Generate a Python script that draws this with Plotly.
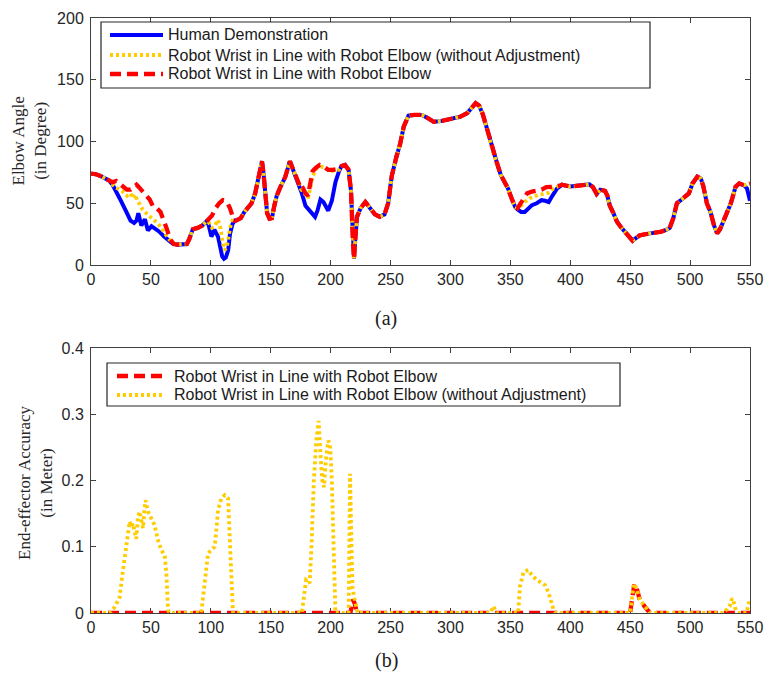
import plotly.graph_objects as go

# ---------------- Top panel (a): Elbow angle ----------------
# shared segments (all three curves coincide)
common_a_x = [0, 4, 8, 12, 15]
common_a_y = [74, 73.5, 72, 70, 68.5]
common_b_x = [72, 76, 80, 82, 85, 89, 93, 96]
common_b_y = [16.5, 17, 17, 21, 29, 30, 32, 35]
common_c_x = [121, 125, 128, 131, 134, 137, 139, 141, 142.7, 144, 145.5, 147, 149, 151, 153, 155,
              158, 162, 166, 168, 170, 173, 175.5]
common_c_y = [36, 38, 43, 47, 50, 58, 67, 76, 84, 74, 55, 42, 37.5, 38, 48, 56,
              63, 71, 84, 79, 74, 66, 61]
common_d_x = [209, 212, 215, 217, 218.5, 219.5, 220.5, 222, 225, 229, 233, 237, 241, 245, 248, 251,
              255, 258, 261, 265, 270, 276, 281, 286, 292, 300, 308, 314, 318, 321, 324, 327,
              330, 333, 336, 339, 342, 345, 348, 351, 354]
common_d_y = [80, 81, 77, 60, 20, 5, 20, 39, 46, 51, 46, 41, 39, 41, 50, 72,
              88, 98, 112, 121, 121.5, 121.5, 119, 116, 116.5, 118, 120, 123, 128, 131, 129, 122,
              112, 101, 90, 82, 73, 68, 62, 54, 47]
common_e_x = [393, 400, 408, 416, 419, 422, 425, 429, 431, 433, 436, 439, 442, 447, 452, 455,
              458, 463, 467, 472, 476, 480, 483, 486, 489, 493, 496, 499, 502, 506, 509, 511,
              514, 517, 520, 522.6, 525, 528, 531, 534, 538, 541, 545]
common_e_y = [65, 63.5, 64, 65.3, 63, 57.5, 61, 60, 56, 48, 42, 35, 31, 25.6, 19.7, 22,
              24, 25, 25.6, 26, 27, 28.5, 30, 38, 50, 53, 55.3, 58, 66, 71.5, 70, 64,
              50, 43, 32, 25.6, 29, 36.5, 43, 50, 63.4, 66, 64.5]

# Human demonstration specific segments
human_s1_x = [18, 22, 25, 29, 33, 36, 38, 39.5, 42, 45, 47.5, 50.5, 53, 57, 61, 65, 68]
human_s1_y = [65, 58, 52, 44, 36, 34, 36, 42, 32, 37, 28, 31.5, 30, 27, 23, 19.5, 17.5]
human_s2_x = [98, 100.5, 103, 106, 108, 109.5, 111, 112.5, 114.5, 116, 118, 120]
human_s2_y = [33, 23, 28.5, 23, 13, 7, 5, 6, 12, 25, 33, 36]
human_s3_x = [176, 179, 183, 187, 189, 191.5, 194, 198, 201, 204, 207]
human_s3_y = [58, 48, 44, 39, 44, 53, 51, 44, 52, 67, 76]
human_s4_x = [356, 359, 362, 365, 368, 372, 376, 379, 382, 385, 389, 392]
human_s4_y = [45, 43, 43, 46, 48.5, 50, 52.5, 52, 51, 56, 62, 64]
human_s5_x = [547.5, 550]
human_s5_y = [62, 52]

# Robot wrist in line with elbow (without adjustment) specific segments
noadj_s1_x = [18, 22, 26, 30, 33, 35, 37, 39, 41, 43, 46, 50, 53, 56, 59, 62, 65, 68]
noadj_s1_y = [65, 62, 60, 56, 58, 54, 57, 51, 49, 45, 42, 38, 36, 33.5, 29, 25, 21, 18]
noadj_s2_x = [98, 101, 103, 106, 108, 110, 111.5, 113, 114.5, 116, 118, 120]
noadj_s2_y = [35, 30, 31, 36.5, 30, 18, 12, 14, 20, 30, 36, 36]
noadj_s3_x = [177, 179, 181, 183, 185, 188, 192, 195, 198, 201, 204, 207]
noadj_s3_y = [60, 57, 54, 62, 72, 78, 79.5, 79, 77, 76, 77, 77]
noadj_s4_x = [356, 359, 362, 366, 370, 374, 378, 382, 386, 389, 392]
noadj_s4_y = [46, 48, 51, 54, 55.5, 57, 57.5, 58.5, 62, 63, 64]
noadj_s5_x = [547.5, 550]
noadj_s5_y = [65, 66]

# Robot wrist in line with elbow (adjusted) specific segments
adj_s1_x = [18, 21, 24, 27, 30, 33, 36, 38, 40, 43, 46, 49, 52, 55, 58, 61, 63, 66, 69]
adj_s1_y = [67, 68, 66, 63, 61, 61, 64, 65, 63, 60, 57, 53, 47, 46, 43, 36, 30, 21, 17]
adj_s2_x = [98, 101, 104, 107, 110, 112, 114, 116, 118, 120]
adj_s2_y = [37, 40, 46, 50, 52.5, 52, 50, 46, 40, 36]
adj_s3_x = [177, 179, 181, 183, 185, 188, 191, 194, 198, 202, 205, 207]
adj_s3_y = [62, 58, 56, 68, 76, 79, 81, 80, 77, 77, 78, 78]
adj_s4_x = [356, 358, 361, 364, 368, 372, 376, 380, 384, 388, 392]
adj_s4_y = [46, 49, 55, 58, 59.5, 60.5, 61, 63, 63, 63.5, 64.5]
adj_s5_x = [547.5, 550]
adj_s5_y = [65, 66]

# ---------------- Bottom panel (b): End-effector accuracy ----------------
acc_noadj_x = [0, 15.6, 19.8, 23.9, 26.7, 29.5, 30.9, 32.3, 33.7, 35, 36.4, 37.8, 39.2, 40.6, 42,
               43.4, 44.8, 45.6, 47.6, 50.4, 53, 55.9, 58.7, 61.5, 62.9, 64.3, 65.7,
               92, 94.9, 97.7, 100.4, 103.2, 104.6, 106, 108.8, 111.6, 114.4, 115.7, 117.1, 118.5,
               176, 178, 179.5, 181, 182.5, 184, 186, 188, 190, 191.5, 193, 194.5, 196, 198,
               199.5, 201, 202.5, 204,
               215, 216.2, 217.2, 218.2, 219.5, 221, 222.5,
               333, 336, 338.5,
               356.5, 358, 361, 365, 368, 372, 376, 379, 382, 386, 388,
               450, 453, 455.5, 458, 462, 466.5,
               528, 531, 533, 535, 536, 537.5, 540, 547, 549.5, 550]
acc_noadj_y = [0, 0, 0.009, 0.024, 0.065, 0.1, 0.12, 0.138, 0.13, 0.135, 0.122, 0.112, 0.145, 0.153, 0.14,
               0.128, 0.16, 0.17, 0.153, 0.143, 0.133, 0.11, 0.095, 0.087, 0.06, 0.004, 0,
               0, 0.049, 0.09, 0.095, 0.1, 0.125, 0.155, 0.173, 0.178, 0.173, 0.11, 0.049, 0,
               0, 0.03, 0.05, 0.048, 0.045, 0.1, 0.2, 0.26, 0.29, 0.24, 0.2, 0.19, 0.23, 0.26,
               0.255, 0.2, 0.08, 0,
               0, 0.21, 0.12, 0.04, 0.025, 0.015, 0,
               0, 0.01, 0,
               0, 0.04, 0.062, 0.065, 0.057, 0.05, 0.045, 0.042, 0.03, 0.005, 0,
               0, 0.044, 0.037, 0.02, 0.01, 0,
               0, 0.005, 0.01, 0.022, 0.02, 0.008, 0, 0, 0.022, 0.022]
acc_adj_x = [0, 216.5, 218.5, 220, 222, 450, 451.5, 453.5, 455.5, 458, 462, 466.5, 550]
acc_adj_y = [0, 0, 0.02, 0.015, 0, 0, 0.02, 0.044, 0.037, 0.02, 0.01, 0, 0]

x_ticks = [0, 50, 100, 150, 200, 250, 300, 350, 400, 450, 500, 550]
angle_ticks = [0, 50, 100, 150, 200]
acc_ticks = [0, 0.1, 0.2, 0.3, 0.4]
acc_tick_text = ["0", "0.1", "0.2", "0.3", "0.4"]

# assemble series from their segments
human_x = (common_a_x + human_s1_x + common_b_x + human_s2_x + common_c_x + human_s3_x +
           common_d_x + human_s4_x + common_e_x + human_s5_x)
human_y = (common_a_y + human_s1_y + common_b_y + human_s2_y + common_c_y + human_s3_y +
           common_d_y + human_s4_y + common_e_y + human_s5_y)
noadj_x = (common_a_x + noadj_s1_x + common_b_x + noadj_s2_x + common_c_x + noadj_s3_x +
           common_d_x + noadj_s4_x + common_e_x + noadj_s5_x)
noadj_y = (common_a_y + noadj_s1_y + common_b_y + noadj_s2_y + common_c_y + noadj_s3_y +
           common_d_y + noadj_s4_y + common_e_y + noadj_s5_y)
adj_x = (common_a_x + adj_s1_x + common_b_x + adj_s2_x + common_c_x + adj_s3_x +
         common_d_x + adj_s4_x + common_e_x + adj_s5_x)
adj_y = (common_a_y + adj_s1_y + common_b_y + adj_s2_y + common_c_y + adj_s3_y +
         common_d_y + adj_s4_y + common_e_y + adj_s5_y)

BLUE = "#0000FF"
YELLOW = "#FFCC00"
RED = "#FF0000"
LBL_HUMAN = "Human Demonstration"
LBL_NOADJ = "Robot Wrist in Line with Robot Elbow (without Adjustment)"
LBL_ADJ = "Robot Wrist in Line with Robot Elbow"

STY_HUMAN = dict(color=BLUE, width=4)
STY_NOADJ = dict(color=YELLOW, width=3.8, dash="3px,3px")
STY_ADJ = dict(color=RED, width=4.3, dash="11px,6px")

fig = go.Figure()
fig.add_trace(go.Scatter(x=human_x, y=human_y, mode="lines", name=LBL_HUMAN,
                         line=STY_HUMAN, xaxis="x", yaxis="y"))
fig.add_trace(go.Scatter(x=noadj_x, y=noadj_y, mode="lines", name=LBL_NOADJ,
                         line=STY_NOADJ, xaxis="x", yaxis="y"))
fig.add_trace(go.Scatter(x=adj_x, y=adj_y, mode="lines", name=LBL_ADJ,
                         line=STY_ADJ, xaxis="x", yaxis="y"))
fig.add_trace(go.Scatter(x=acc_adj_x, y=acc_adj_y, mode="lines", name=LBL_ADJ,
                         line=STY_ADJ, xaxis="x2", yaxis="y2"))
fig.add_trace(go.Scatter(x=acc_noadj_x, y=acc_noadj_y, mode="lines", name=LBL_NOADJ,
                         line=STY_NOADJ, xaxis="x2", yaxis="y2"))

W, H = 775, 677
def px(v):
    return v / W
def py(v):
    return 1 - v / H

x0, x1 = px(91), px(750)
top_dom = [py(265), py(18)]
bot_dom = [py(613), py(348)]

axis_common = dict(showline=True, linecolor="#404040", linewidth=1, mirror="ticks",
                   ticks="inside", ticklen=5, tickcolor="#404040", showgrid=False,
                   zeroline=False, tickfont=dict(family="Liberation Sans", size=16, color="#262626"),
                   automargin=False, layer="below traces")

fig.update_layout(
    width=W, height=H,
    margin=dict(l=0, r=0, t=0, b=0),
    paper_bgcolor="white", plot_bgcolor="white",
    showlegend=False,
    xaxis=dict(domain=[x0, x1], range=[0, 550], tickvals=x_ticks, anchor="y", **axis_common),
    yaxis=dict(domain=top_dom, range=[0, 200], tickvals=angle_ticks, anchor="x",
               ticklabelstandoff=3, **axis_common),
    xaxis2=dict(domain=[x0, x1], range=[0, 550], tickvals=x_ticks, anchor="y2", **axis_common),
    yaxis2=dict(domain=bot_dom, range=[0, 0.4], tickvals=acc_ticks, ticktext=acc_tick_text,
                anchor="x2", ticklabelstandoff=3, **axis_common),
)

# ---- legends (box, line samples, labels) ----
leg_font = dict(family="Liberation Sans", size=16, color="#1a1a1a")

def add_legend(box, rows, sample_x0, sample_x1, text_x):
    bx0, by0, bx1, by1 = box
    fig.add_shape(type="rect", xref="paper", yref="paper",
                  x0=px(bx0), x1=px(bx1), y0=py(by1), y1=py(by0),
                  line=dict(color="#262626", width=1.2), fillcolor="white", layer="above")
    for yrow, label, sty in rows:
        fig.add_shape(type="line", xref="paper", yref="paper",
                      x0=px(sample_x0), x1=px(sample_x1), y0=py(yrow), y1=py(yrow),
                      line=sty, layer="above")
        fig.add_annotation(text=label, xref="paper", yref="paper", x=px(text_x), y=py(yrow),
                           xanchor="left", yanchor="middle", showarrow=False, font=leg_font)

add_legend((101, 22, 650, 88),
           [(35, LBL_HUMAN, STY_HUMAN), (55, LBL_NOADJ, STY_NOADJ), (74, LBL_ADJ, STY_ADJ)],
           110, 163, 166)
add_legend((107, 363, 620, 406),
           [(376, LBL_ADJ, STY_ADJ), (395, LBL_NOADJ, STY_NOADJ)],
           117, 165, 172)

serif = dict(family="Liberation Serif", size=17, color="#262626")
fig.add_annotation(text="Elbow Angle<br>(in Degree)", xref="paper", yref="paper",
                   x=px(29), y=py(141.5), textangle=-90, showarrow=False,
                   font=serif, xanchor="center", yanchor="middle")
fig.add_annotation(text="End-effector Accuracy<br>(in Meter)", xref="paper", yref="paper",
                   x=px(35), y=py(483), textangle=-90, showarrow=False,
                   font=serif, xanchor="center", yanchor="middle")
cap_font = dict(family="Liberation Serif", size=20, color="#1a1a1a")
fig.add_annotation(text="(a)", xref="paper", yref="paper", x=px(386), y=py(318),
                   showarrow=False, font=cap_font, xanchor="center", yanchor="middle")
fig.add_annotation(text="(b)", xref="paper", yref="paper", x=px(386), y=py(660),
                   showarrow=False, font=cap_font, xanchor="center", yanchor="middle")

fig.write_html("out.html", config={"displayModeBar": False},
               post_script="document.body.style.margin='0px';")
